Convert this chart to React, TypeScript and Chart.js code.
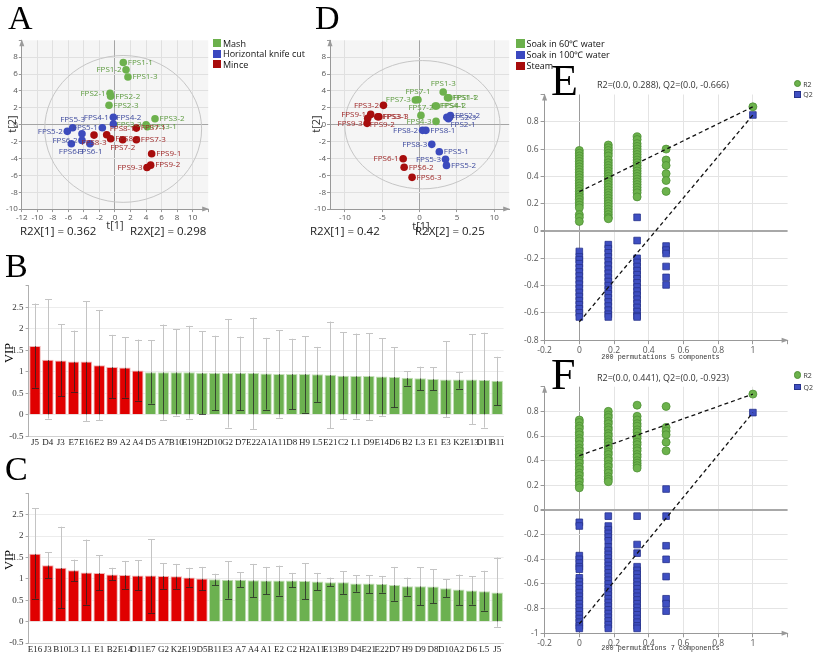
import React, { useEffect, useRef } from 'react';
import { Chart, registerables } from 'chart.js';

Chart.register(...registerables);
Chart.defaults.font.family = 'Open Sans';

// ================= Panel A: PCA scores =================
const A_GROUPS = ['Mash', 'Horizontal knife cut', 'Mince'];
const A_MASH_NAMES = ['FPS1-1', 'FPS1-2', 'FPS1-3', 'FPS2-1', 'FPS2-2', 'FPS2-3', 'FPS3-1', 'FPS3-2', 'FPS3-3'];
const A_MASH_T1 = [1.07, 1.42, 1.67, -0.64, -0.56, -0.77, 4.16, 5.15, 4.0];
const A_MASH_T2 = [7.37, 6.5, 5.66, 3.72, 3.37, 2.3, -0.24, 0.71, 0.0];
const A_KNIFE_NAMES = ['FPS4-1', 'FPS4-2', 'FPS4-3', 'FPS5-1', 'FPS5-2', 'FPS5-3', 'FPS6-1', 'FPS6-2', 'FPS6-3'];
const A_KNIFE_T1 = [-0.21, -0.21, -4.25, -1.63, -6.14, -5.45, -3.22, -4.25, -5.62];
const A_KNIFE_T2 = [0.87, 0.08, -1.07, -0.36, -0.79, -0.36, -2.26, -1.86, -2.26];
const A_MINCE_NAMES = ['FPS7-1', 'FPS7-2', 'FPS7-3', 'FPS8-1', 'FPS8-2', 'FPS8-3', 'FPS9-1', 'FPS9-2', 'FPS9-3'];
const A_MINCE_T1 = [2.75, 0.99, 2.75, -1.07, -0.56, -2.7, 4.72, 4.59, 4.12];
const A_MINCE_T2 = [-0.4, -1.78, -1.78, -1.19, -1.66, -1.23, -3.45, -4.79, -5.07];
const A_X_TICKS = [-12, -10, -8, -6, -4, -2, 0, 2, 4, 6, 8, 10, 12];
const A_R2X = ['R2X[1] = 0.362', 'R2X[2] = 0.298'];

// ================= Panel D: PCA scores =================
const D_GROUPS = ['Soak in 60\u2103 water', 'Soak in 100\u2103 water', 'Steam'];
const D_60_NAMES = ['FPS1-1', 'FPS1-2', 'FPS1-3', 'FPS4-1', 'FPS4-2', 'FPS4-3', 'FPS7-1', 'FPS7-2', 'FPS7-3'];
const D_60_T1 = [3.74, 3.9, 3.16, 2.1, 2.25, 2.2, -0.22, 0.18, -0.57];
const D_60_T2 = [3.2, 3.2, 3.87, 2.21, 2.21, 0.39, 2.96, 1.1, 2.92];
const D_100_NAMES = ['FPS2-1', 'FPS2-2', 'FPS2-3', 'FPS5-1', 'FPS5-2', 'FPS5-3', 'FPS8-1', 'FPS8-2', 'FPS8-3'];
const D_100_T1 = [3.87, 4.13, 3.65, 2.64, 3.6, 3.47, 0.84, 0.4, 1.63];
const D_100_T2 = [0.71, 1.07, 0.87, -3.2, -4.82, -4.1, -0.67, -0.67, -2.33];
const D_STEAM_NAMES = ['FPS3-1', 'FPS3-2', 'FPS3-3', 'FPS6-1', 'FPS6-2', 'FPS6-3', 'FPS9-1', 'FPS9-2', 'FPS9-3'];
const D_STEAM_T1 = [-5.6, -4.84, -5.45, -2.2, -2.07, -1.01, -6.55, -6.95, -7.03];
const D_STEAM_T2 = [0.95, 2.29, 0.95, -4.03, -5.05, -6.24, 1.22, 0.75, 0.16];
const D_X_TICKS = [-10, -5, 0, 5, 10];
const D_R2X = ['R2X[1] = 0.42', 'R2X[2] = 0.25'];

// ================= Panel B: VIP =================
const B_VARS = ['J5', 'D4', 'J3', 'E7', 'E16', 'E2', 'B9', 'A2', 'A4', 'D5', 'A7', 'B10', 'E19', 'H2', 'D10', 'G2', 'D7', 'E22', 'A1', 'A11', 'D8', 'H9', 'L5', 'E21', 'C2', 'L1', 'D9', 'E14', 'D6', 'B2', 'L3', 'E1', 'E3', 'K2', 'E13', 'D11', 'B11'];
const B_VIP = [1.6, 1.28, 1.26, 1.24, 1.24, 1.15, 1.11, 1.1, 1.03, 0.99, 0.99, 0.99, 0.99, 0.98, 0.97, 0.97, 0.97, 0.97, 0.96, 0.95, 0.95, 0.95, 0.94, 0.93, 0.91, 0.9, 0.9, 0.89, 0.88, 0.86, 0.85, 0.83, 0.82, 0.82, 0.82, 0.81, 0.79];
const B_LOW = [0.63, -0.09, 0.43, 0.54, -0.15, -0.13, 0.39, 0.4, 0.33, 0.26, -0.12, -0.02, -0.09, 0.01, 0.1, -0.3, 0.1, -0.33, 0.12, -0.07, 0.13, 0.05, 0.3, -0.31, -0.1, -0.09, -0.12, -0.03, 0.17, 0.68, 0.57, 0.57, -0.06, 0.61, -0.22, -0.3, 0.22];
const B_HIGH = [2.59, 2.69, 2.11, 1.96, 2.64, 2.44, 1.86, 1.8, 1.75, 1.73, 2.1, 1.99, 2.07, 1.94, 1.84, 2.23, 1.82, 2.26, 1.79, 1.97, 1.77, 1.83, 1.58, 2.17, 1.92, 1.89, 1.9, 1.78, 1.57, 1.01, 1.12, 1.1, 1.71, 1.0, 1.87, 1.91, 1.35];

// ================= Panel C: VIP =================
const C_VARS = ['E16', 'J3', 'B10', 'L3', 'L1', 'E1', 'B2', 'E14', 'D11', 'E7', 'G2', 'K2', 'E19', 'D5', 'B11', 'E3', 'A7', 'A4', 'A1', 'E2', 'C2', 'H2', 'A11', 'E13', 'B9', 'D4', 'E21', 'E22', 'D7', 'H9', 'D9', 'D8', 'D10', 'A2', 'D6', 'L5', 'J5'];
const C_VIP = [1.59, 1.32, 1.26, 1.2, 1.15, 1.14, 1.1, 1.09, 1.08, 1.08, 1.07, 1.06, 1.03, 1.01, 0.99, 0.98, 0.98, 0.97, 0.96, 0.96, 0.96, 0.95, 0.94, 0.92, 0.92, 0.89, 0.89, 0.88, 0.86, 0.83, 0.83, 0.82, 0.78, 0.75, 0.73, 0.71, 0.68];
const C_LOW = [0.54, 1.02, 0.31, 0.95, 0.4, 0.74, 0.97, 0.77, 0.74, 0.21, 0.77, 0.77, 0.82, 0.73, 0.85, 0.54, 0.81, 0.57, 0.64, 0.61, 0.8, 0.53, 0.74, 0.83, 0.65, 0.7, 0.67, 0.68, 0.49, 0.61, 0.38, 0.43, 0.58, 0.39, 0.4, 0.26, -0.12];
const C_HIGH = [2.65, 1.62, 2.22, 1.45, 1.92, 1.55, 1.26, 1.42, 1.44, 1.93, 1.36, 1.35, 1.26, 1.28, 1.12, 1.41, 1.16, 1.35, 1.28, 1.31, 1.14, 1.37, 1.14, 1.03, 1.18, 1.08, 1.09, 1.07, 1.28, 1.03, 1.27, 1.22, 0.99, 1.1, 1.06, 1.19, 1.5];
const VIP_THRESHOLD = 1;

// ================= Panels E / F: permutation tests =================
const PERM_X = [0, 0.167, 0.333, 0.5, 1];
const E_R2 = [
  [0.59, 0.57, 0.55, 0.53, 0.51, 0.49, 0.47, 0.45, 0.43, 0.41, 0.39, 0.37, 0.35, 0.33, 0.31, 0.29, 0.27, 0.25, 0.23, 0.21, 0.19, 0.17, 0.12, 0.1, 0.07],
  [0.63, 0.61, 0.59, 0.57, 0.55, 0.52, 0.5, 0.48, 0.46, 0.44, 0.42, 0.4, 0.38, 0.36, 0.34, 0.32, 0.3, 0.28, 0.26, 0.24, 0.22, 0.2, 0.18, 0.16, 0.14, 0.12, 0.1, 0.09],
  [0.69, 0.67, 0.64, 0.62, 0.6, 0.58, 0.56, 0.54, 0.52, 0.5, 0.48, 0.46, 0.44, 0.42, 0.4, 0.38, 0.36, 0.34, 0.32, 0.3, 0.28, 0.25],
  [0.6, 0.52, 0.48, 0.42, 0.37, 0.29],
  [0.91],
];
const E_Q2 = [
  [-0.15, -0.19, -0.21, -0.24, -0.27, -0.3, -0.33, -0.36, -0.39, -0.42, -0.45, -0.48, -0.51, -0.54, -0.57, -0.6, -0.63],
  [-0.1, -0.13, -0.16, -0.19, -0.22, -0.25, -0.28, -0.31, -0.34, -0.37, -0.4, -0.43, -0.46, -0.49, -0.52, -0.55, -0.58, -0.61, -0.63],
  [0.1, -0.07, -0.2, -0.23, -0.26, -0.29, -0.32, -0.35, -0.38, -0.41, -0.44, -0.47, -0.5, -0.53, -0.56, -0.59, -0.62, -0.63],
  [-0.11, -0.14, -0.165, -0.26, -0.34, -0.395],
  [0.85],
];
const E_R2_INTERCEPT = 0.288;
const E_Q2_INTERCEPT = -0.666;
const E_TITLE = 'R2=(0.0, 0.288), Q2=(0.0, -0.666)';
const E_XTITLE = '200 permutations 5 components';

const F_R2 = [
  [0.73, 0.71, 0.68, 0.66, 0.63, 0.61, 0.58, 0.56, 0.53, 0.5, 0.48, 0.45, 0.43, 0.4, 0.38, 0.35, 0.33, 0.3, 0.28, 0.25, 0.23, 0.2, 0.18],
  [0.8, 0.77, 0.75, 0.72, 0.7, 0.67, 0.65, 0.62, 0.6, 0.57, 0.55, 0.52, 0.5, 0.47, 0.45, 0.42, 0.4, 0.37, 0.35, 0.32, 0.3, 0.27, 0.25, 0.23],
  [0.85, 0.76, 0.73, 0.7, 0.68, 0.65, 0.63, 0.6, 0.58, 0.55, 0.53, 0.5, 0.48, 0.45, 0.43, 0.4, 0.38, 0.36, 0.34],
  [0.84, 0.67, 0.64, 0.61, 0.55, 0.48],
  [0.94],
];
const F_Q2 = [
  [-0.1, -0.13, -0.37, -0.4, -0.43, -0.46, -0.48, -0.55, -0.58, -0.61, -0.64, -0.67, -0.7, -0.73, -0.76, -0.79, -0.82, -0.85, -0.88, -0.91, -0.94, -0.96],
  [-0.05, -0.13, -0.16, -0.19, -0.22, -0.25, -0.3, -0.33, -0.36, -0.39, -0.42, -0.45, -0.48, -0.51, -0.54, -0.57, -0.6, -0.63, -0.66, -0.69, -0.72, -0.75, -0.78, -0.81, -0.84, -0.87, -0.9, -0.93, -0.96],
  [-0.05, -0.28, -0.35, -0.46, -0.49, -0.52, -0.55, -0.58, -0.61, -0.64, -0.67, -0.7, -0.73, -0.76, -0.79, -0.82, -0.85, -0.88, -0.91, -0.94, -0.96],
  [0.17, -0.05, -0.29, -0.4, -0.54, -0.72, -0.76, -0.82],
  [0.79],
];
const F_R2_INTERCEPT = 0.441;
const F_Q2_INTERCEPT = -0.923;
const F_TITLE = 'R2=(0.0, 0.441), Q2=(0.0, -0.923)';
const F_XTITLE = '200 permutations 7 components';

// ================= styling (not data) =================
const A_MASH_SIDES = ['r', 'l', 'r', 'l', 'r', 'r', 'r', 'r', 'l'];
const A_KNIFE_SIDES = ['l', 'tr', 'n', 'l', 'l', 't', 'b', 'l', 'b'];
const A_MINCE_SIDES = ['r', 'b', 'r', 'tr', 'r', 'b', 'r', 'r', 'l'];
const D_60_SIDES = ['r', 'r', 't', 'r', 'r', 'l', 't', 't', 'l'];
const D_100_SIDES = ['br', 'r', 'r', 'r', 'r', 'l', 'r', 'l', 'l'];
const D_STEAM_SIDES = ['r', 'l', 'r', 'l', 'r', 'r', 'l', 'br', 'l'];

const GREEN = '#6db14d';
const BLUE = '#3c4bbd';
const DRED = '#a70d0d';
const GREEN_TXT = '#5c9a3e';
const BLUE_TXT = '#3e4a9e';
const RED_TXT = '#9e2626';
const BAR_RED = '#e00000';
const BAR_GREEN = '#6cb150';

type Box = { l: number; t: number; w: number; h: number };
type Area = { l: number; t: number; r: number; b: number };

function frame(box: Box, area: Area) {
  return {
    padding: { left: 0, top: area.t - box.t, right: box.l + box.w - area.r, bottom: 0 },
    xH: box.t + box.h - area.b,
    yW: area.l - box.l,
  };
}

// ---------- plugins ----------
const plotBgPlugin = {
  id: 'plotBg',
  beforeDraw(chart: any, _a: any, o: any) {
    if (!o || !o.color) return;
    const { ctx, chartArea: c } = chart;
    ctx.save();
    ctx.fillStyle = o.color;
    ctx.fillRect(c.left, c.top, c.right - c.left, c.bottom - c.top);
    ctx.restore();
  },
};

const ellipsePlugin = {
  id: 'ellipse',
  beforeDatasetsDraw(chart: any, _a: any, o: any) {
    if (!o || o.rx == null) return;
    const xs = chart.scales.x;
    const ys = chart.scales.y;
    const cx = xs.getPixelForValue(o.cx);
    const cy = ys.getPixelForValue(o.cy);
    const rx = Math.abs(xs.getPixelForValue(o.cx + o.rx) - cx);
    const ry = Math.abs(ys.getPixelForValue(o.cy + o.ry) - cy);
    const ctx = chart.ctx;
    ctx.save();
    ctx.beginPath();
    ctx.ellipse(cx, cy, rx, ry, 0, 0, Math.PI * 2);
    ctx.strokeStyle = o.color || '#c8c8c8';
    ctx.lineWidth = 1;
    ctx.stroke();
    ctx.restore();
  },
};

const pointLabelPlugin = {
  id: 'pointLabels',
  afterDatasetsDraw(chart: any, _a: any, o: any) {
    const ctx = chart.ctx;
    ctx.save();
    ctx.font = `${(o && o.size) || 8}px "Open Sans"`;
    ctx.textBaseline = 'middle';
    chart.data.datasets.forEach((ds: any, di: number) => {
      if (!ds.pointNames) return;
      const meta = chart.getDatasetMeta(di);
      meta.data.forEach((pt: any, i: number) => {
        const side = ds.labelSides[i];
        if (side === 'n') return;
        let x = pt.x;
        let y = pt.y;
        ctx.fillStyle = ds.labelColor;
        if (side === 'r') { ctx.textAlign = 'left'; x += 4.5; }
        else if (side === 'l') { ctx.textAlign = 'right'; x -= 4.5; }
        else if (side === 't') { ctx.textAlign = 'center'; y -= 8; }
        else if (side === 'b') { ctx.textAlign = 'center'; y += 8; }
        else if (side === 'tr') { ctx.textAlign = 'left'; x += 3; y -= 6.5; }
        else if (side === 'br') { ctx.textAlign = 'left'; x += 2; y += 6.5; }
        ctx.fillText(ds.pointNames[i], x, y);
      });
    });
    ctx.restore();
  },
};

const arrowPlugin = {
  id: 'axisArrows',
  afterDraw(chart: any, _a: any, o: any) {
    if (!o || !o.color) return;
    const { ctx, chartArea: c } = chart;
    ctx.save();
    ctx.fillStyle = o.color;
    ctx.beginPath();
    ctx.moveTo(c.right + 1, c.bottom);
    ctx.lineTo(c.right - 6, c.bottom - 2.5);
    ctx.lineTo(c.right - 6, c.bottom + 2.5);
    ctx.closePath();
    ctx.fill();
    ctx.beginPath();
    ctx.moveTo(c.left, c.top - 1);
    ctx.lineTo(c.left - 2.5, c.top + 6);
    ctx.lineTo(c.left + 2.5, c.top + 6);
    ctx.closePath();
    ctx.fill();
    ctx.restore();
  },
};

const errorBarPlugin = {
  id: 'errorBars',
  afterDatasetsDraw(chart: any) {
    const ds: any = chart.data.datasets[0];
    if (!ds.errLow) return;
    const meta = chart.getDatasetMeta(0);
    const ys = chart.scales.y;
    const ctx = chart.ctx;
    const light = '#c4c4c4';
    const dark = 'rgba(35,35,35,0.75)';
    const cap = 3.5;
    const seg = (x: number, a: number, b: number, col: string) => {
      if (b <= a) return;
      ctx.strokeStyle = col;
      ctx.beginPath();
      ctx.moveTo(x, ys.getPixelForValue(a));
      ctx.lineTo(x, ys.getPixelForValue(b));
      ctx.stroke();
    };
    const capAt = (x: number, v: number, col: string) => {
      const p = Math.round(ys.getPixelForValue(v)) + 0.5;
      ctx.strokeStyle = col;
      ctx.beginPath();
      ctx.moveTo(x - cap, p);
      ctx.lineTo(x + cap, p);
      ctx.stroke();
    };
    ctx.save();
    ctx.lineWidth = 1;
    meta.data.forEach((bar: any, i: number) => {
      const x = Math.round(bar.x) + 0.5;
      const v = ds.data[i];
      const lo = ds.errLow[i];
      const hi = ds.errHigh[i];
      seg(x, Math.max(lo, 0), Math.min(hi, v), dark);
      seg(x, Math.max(lo, v), hi, light);
      seg(x, lo, Math.min(hi, 0), light);
      capAt(x, hi, hi > v ? light : dark);
      capAt(x, lo, lo < 0 ? light : dark);
    });
    ctx.restore();
  },
};

// ---------- config builders ----------
type Group = { names: string[]; t1: number[]; t2: number[]; sides: string[]; color: string; labelColor: string };

function makePCA(groups: Group[], box: Box, area: Area, xTicks: number[], ell: any) {
  const f = frame(box, area);
  return {
    type: 'scatter',
    data: {
      datasets: groups.map((g) => ({
        data: g.t1.map((v, i) => ({ x: v, y: g.t2[i] })),
        backgroundColor: g.color,
        borderWidth: 0,
        pointRadius: 3.8,
        pointHoverRadius: 3.8,
        pointNames: g.names,
        labelSides: g.sides,
        labelColor: g.labelColor,
      })),
    },
    options: {
      responsive: false,
      animation: false,
      events: [],
      layout: { padding: f.padding },
      plugins: {
        legend: { display: false },
        tooltip: { enabled: false },
        plotBg: { color: '#f5f5f5' },
        ellipse: ell,
        axisArrows: { color: '#9a9a9a' },
        pointLabels: { size: 8 },
      },
      scales: {
        x: {
          type: 'linear',
          min: -12,
          max: 12,
          afterFit: (s: any) => { s.height = f.xH; },
          afterBuildTicks: (s: any) => { s.ticks = xTicks.map((v) => ({ value: v })); },
          ticks: {
            font: { size: 8 }, color: '#555', padding: 1, maxRotation: 0, autoSkip: false,
            callback: (v: any) => (v >= 12 ? '' : String(v)),
          },
          grid: {
            color: (c: any) => (c.tick && c.tick.value === 0 ? '#a5a5a5' : c.tick && c.tick.value >= 12 ? 'rgba(0,0,0,0)' : '#e0e0e0'),
            tickLength: 3, tickColor: '#999',
          },
          border: { color: '#999' },
        },
        y: {
          type: 'linear',
          min: -10,
          max: 10,
          afterFit: (s: any) => { s.width = f.yW; },
          ticks: {
            stepSize: 2, font: { size: 8 }, color: '#555', padding: 1,
            callback: (v: any) => (v >= 10 ? '' : String(v)),
          },
          grid: {
            color: (c: any) => (c.tick && c.tick.value === 0 ? '#a5a5a5' : c.tick && c.tick.value >= 10 ? 'rgba(0,0,0,0)' : '#e0e0e0'),
            tickLength: 3, tickColor: '#999',
          },
          border: { color: '#999' },
        },
      },
    },
    plugins: [plotBgPlugin, ellipsePlugin, pointLabelPlugin, arrowPlugin],
  };
}

function makeVIP(vars: string[], vip: number[], low: number[], high: number[], box: Box, area: Area) {
  const f = frame(box, area);
  return {
    type: 'bar',
    data: {
      labels: vars,
      datasets: [{
        data: vip,
        backgroundColor: vip.map((v) => (v > VIP_THRESHOLD ? BAR_RED : BAR_GREEN)),
        borderColor: vip.map((v) => (v > VIP_THRESHOLD ? '#efb4b4' : '#c4dfb8')),
        borderWidth: 1,
        barPercentage: 0.9,
        categoryPercentage: 1,
        errLow: low,
        errHigh: high,
      }],
    },
    options: {
      responsive: false,
      animation: false,
      events: [],
      layout: { padding: f.padding },
      plugins: { legend: { display: false }, tooltip: { enabled: false } },
      scales: {
        x: {
          type: 'category',
          afterFit: (s: any) => { s.height = f.xH; },
          ticks: {
            font: { family: 'Liberation Serif', size: 9 }, color: '#222', padding: 1,
            maxRotation: 0, minRotation: 0, autoSkip: false,
          },
          grid: { display: false, drawTicks: false, tickLength: 0 },
          border: { display: true, color: '#d0d0d0' },
        },
        y: {
          type: 'linear',
          min: -0.5,
          max: 3,
          afterFit: (s: any) => { s.width = f.yW; },
          ticks: {
            stepSize: 0.5, font: { family: 'Liberation Serif', size: 9 }, color: '#333', padding: 2,
            callback: (v: any) => (v >= 2.99 ? '' : String(v)),
          },
          grid: {
            color: (c: any) => (c.tick && (c.tick.value >= 2.99 || c.tick.value <= -0.49) ? 'rgba(0,0,0,0)' : '#ececec'),
            tickLength: 3, tickColor: '#aaa',
          },
          border: { color: '#b0b0b0' },
        },
      },
    },
    plugins: [errorBarPlugin],
  };
}

function makePerm(r2: number[][], q2: number[][], r2Int: number, q2Int: number, yMin: number, box: Box, area: Area) {
  const f = frame(box, area);
  const pts = (groups: number[][]) => groups.flatMap((col, gi) => col.map((v) => ({ x: PERM_X[gi], y: v })));
  const last = PERM_X.length - 1;
  const r2Orig = r2[last][0];
  const q2Orig = q2[last][0];
  const fmt = (v: number) => String(Math.round(v * 10) / 10);
  return {
    type: 'scatter',
    data: {
      datasets: [
        {
          data: [{ x: PERM_X[0], y: r2Int }, { x: PERM_X[last], y: r2Orig }],
          showLine: true, borderColor: '#111', borderWidth: 1.3, borderDash: [4, 3], pointRadius: 0, order: 0,
        },
        {
          data: [{ x: PERM_X[0], y: q2Int }, { x: PERM_X[last], y: q2Orig }],
          showLine: true, borderColor: '#111', borderWidth: 1.3, borderDash: [4, 3], pointRadius: 0, order: 0,
        },
        {
          data: pts(r2), pointStyle: 'circle', pointRadius: 4, pointHoverRadius: 4,
          backgroundColor: '#6cb24c', borderColor: '#4d8f33', borderWidth: 0.8, order: 1,
        },
        {
          data: pts(q2), pointStyle: 'rect', pointRadius: 4.7, pointHoverRadius: 4.7,
          backgroundColor: '#3f4fc2', borderColor: '#27328c', borderWidth: 0.8, order: 2,
        },
      ],
    },
    options: {
      responsive: false,
      animation: false,
      events: [],
      layout: { padding: f.padding },
      plugins: { legend: { display: false }, tooltip: { enabled: false }, axisArrows: { color: '#999' } },
      scales: {
        x: {
          type: 'linear', min: -0.2, max: 1.2,
          afterFit: (s: any) => { s.height = f.xH; },
          ticks: {
            stepSize: 0.2, font: { size: 8.5 }, color: '#555', padding: 1, maxRotation: 0,
            callback: (v: any) => (v > 1.05 ? '' : fmt(v)),
          },
          grid: {
            color: (c: any) => {
              const v = c.tick ? c.tick.value : 1;
              if (Math.abs(v) < 1e-6) return '#9c9c9c';
              if (v > 1.15) return 'rgba(0,0,0,0)';
              return '#e4e4e4';
            },
            tickLength: 4, tickColor: '#999',
          },
          border: { color: '#999' },
        },
        y: {
          type: 'linear', min: yMin, max: 1.0,
          afterFit: (s: any) => { s.width = f.yW; },
          ticks: {
            stepSize: 0.2, font: { size: 8.5 }, color: '#555', padding: 2,
            callback: (v: any) => (v > 0.95 ? '' : fmt(v)),
          },
          grid: {
            color: (c: any) => {
              const v = c.tick ? c.tick.value : 1;
              if (Math.abs(v) < 1e-6) return '#a8a8a8';
              if (v > 0.95) return 'rgba(0,0,0,0)';
              return '#e4e4e4';
            },
            lineWidth: (c: any) => (c.tick && Math.abs(c.tick.value) < 1e-6 ? 2 : 1),
            tickLength: 4, tickColor: '#999',
          },
          border: { color: '#999' },
        },
      },
    },
    plugins: [arrowPlugin],
  };
}

// ---------- geometry ----------
const A_BOX = { l: 0, t: 30, w: 300, h: 212 };
const A_AREA = { l: 21.8, t: 40.3, r: 208.2, b: 209.1 };
const D_BOX = { l: 300, t: 30, w: 213, h: 212 };
const D_AREA = { l: 330, t: 40.3, r: 512, b: 209.1 };
const B_BOX = { l: 0, t: 275, w: 515, h: 175 };
const B_AREA = { l: 28.6, t: 285.9, r: 503.6, b: 436.2 };
const C_BOX = { l: 0, t: 482, w: 515, h: 173 };
const C_AREA = { l: 28.6, t: 493.3, r: 503.6, b: 643.1 };
const E_BOX = { l: 500, t: 75, w: 313, h: 290 };
const E_AREA = { l: 544.6, t: 94.5, r: 787.6, b: 340.2 };
const F_BOX = { l: 500, t: 370, w: 313, h: 285 };
const F_AREA = { l: 544.6, t: 386.7, r: 787.6, b: 633.3 };

function ChartCanvas({ box, make }: { box: Box; make: () => any }) {
  const ref = useRef<HTMLCanvasElement>(null);
  useEffect(() => {
    const chart = new Chart(ref.current as HTMLCanvasElement, make());
    return () => chart.destroy();
  }, []);
  return (
    <canvas
      ref={ref}
      width={box.w}
      height={box.h}
      style={{ position: 'absolute', left: box.l, top: box.t, width: box.w, height: box.h }}
    />
  );
}

function Txt({ x, y, size, family, color, center, children, rotate }: any) {
  return (
    <div
      style={{
        position: 'absolute', left: x, top: y, whiteSpace: 'nowrap', lineHeight: 1,
        fontSize: size, fontFamily: family || 'Open Sans', color: color || '#222',
        transform: rotate ? 'translate(-50%,-50%) rotate(-90deg)' : `translate(${center ? '-50%' : '0'},-50%)`,
      }}
    >
      {children}
    </div>
  );
}

function Letter({ x, y, size, children }: any) {
  return (
    <div style={{ position: 'absolute', left: x, top: y, fontFamily: 'Liberation Serif', fontSize: size, lineHeight: 1, color: '#000' }}>
      {children}
    </div>
  );
}

function Legend({ x, y, step, sq, labels, colors, size }: any) {
  return (
    <>
      {labels.map((lab: string, i: number) => (
        <div key={lab} style={{ position: 'absolute', left: x, top: y + i * step, height: sq, display: 'flex', alignItems: 'center' }}>
          <div style={{ width: sq, height: sq, background: colors[i], flex: 'none' }} />
          <span style={{ marginLeft: 2, fontSize: size, fontFamily: 'Open Sans', whiteSpace: 'nowrap', color: '#111' }}>{lab}</span>
        </div>
      ))}
    </>
  );
}

function PermLegend({ x, y1, y2 }: any) {
  return (
    <>
      <div style={{ position: 'absolute', left: x - 3.8, top: y1 - 3.8, width: 7.6, height: 7.6, borderRadius: '50%', background: '#6cb24c', boxSizing: 'border-box', border: '0.8px solid #4d8f33' }} />
      <Txt x={x + 6} y={y1} size={7} color="#333">R2</Txt>
      <div style={{ position: 'absolute', left: x - 3.2, top: y2 - 3.2, width: 6.5, height: 6.5, background: '#3f4fc2', boxSizing: 'border-box', border: '0.8px solid #27328c' }} />
      <Txt x={x + 6} y={y2} size={7} color="#333">Q2</Txt>
    </>
  );
}

export default function App() {
  const aGroups: Group[] = [
    { names: A_MASH_NAMES, t1: A_MASH_T1, t2: A_MASH_T2, sides: A_MASH_SIDES, color: GREEN, labelColor: GREEN_TXT },
    { names: A_KNIFE_NAMES, t1: A_KNIFE_T1, t2: A_KNIFE_T2, sides: A_KNIFE_SIDES, color: BLUE, labelColor: BLUE_TXT },
    { names: A_MINCE_NAMES, t1: A_MINCE_T1, t2: A_MINCE_T2, sides: A_MINCE_SIDES, color: DRED, labelColor: RED_TXT },
  ];
  const dGroups: Group[] = [
    { names: D_60_NAMES, t1: D_60_T1, t2: D_60_T2, sides: D_60_SIDES, color: GREEN, labelColor: GREEN_TXT },
    { names: D_100_NAMES, t1: D_100_T1, t2: D_100_T2, sides: D_100_SIDES, color: BLUE, labelColor: BLUE_TXT },
    { names: D_STEAM_NAMES, t1: D_STEAM_T1, t2: D_STEAM_T2, sides: D_STEAM_SIDES, color: DRED, labelColor: RED_TXT },
  ];
  const legendColors = ['#6cb04c', '#3b48c0', '#a80c0c'];

  return (
    <div style={{ position: 'absolute', left: 0, top: 0, width: 813, height: 655, background: '#fff', overflow: 'hidden' }}>
      <ChartCanvas box={A_BOX} make={() => makePCA(aGroups, A_BOX, A_AREA, A_X_TICKS, { cx: 1.05, cy: -0.5, rx: 10.1, ry: 8.7, color: '#c6c6c6' })} />
      <ChartCanvas box={D_BOX} make={() => makePCA(dGroups, D_BOX, D_AREA, D_X_TICKS, { cx: 0.37, cy: 0, rx: 10.4, ry: 7.6, color: '#c6c6c6' })} />
      <ChartCanvas box={B_BOX} make={() => makeVIP(B_VARS, B_VIP, B_LOW, B_HIGH, B_BOX, B_AREA)} />
      <ChartCanvas box={C_BOX} make={() => makeVIP(C_VARS, C_VIP, C_LOW, C_HIGH, C_BOX, C_AREA)} />
      <ChartCanvas box={E_BOX} make={() => makePerm(E_R2, E_Q2, E_R2_INTERCEPT, E_Q2_INTERCEPT, -0.8, E_BOX, E_AREA)} />
      <ChartCanvas box={F_BOX} make={() => makePerm(F_R2, F_Q2, F_R2_INTERCEPT, F_Q2_INTERCEPT, -1, F_BOX, F_AREA)} />

      {/* panel letters */}
      <Letter x={8} y={1} size={34}>A</Letter>
      <Letter x={315} y={1} size={34}>D</Letter>
      <Letter x={5} y={249} size={34}>B</Letter>
      <Letter x={5} y={452} size={34}>C</Letter>
      <Letter x={551} y={59} size={44}>E</Letter>
      <Letter x={551} y={353} size={44}>F</Letter>

      {/* PCA legends */}
      <Legend x={213} y={39} step={10.5} sq={8} labels={A_GROUPS} colors={legendColors} size={9} />
      <Legend x={516} y={39.3} step={11.2} sq={8.5} labels={D_GROUPS} colors={legendColors} size={9} />

      {/* PCA axis titles */}
      <Txt x={115} y={224} size={11} color="#333" center>t[1]</Txt>
      <Txt x={11} y={124} size={11} color="#333" rotate>t[2]</Txt>
      <Txt x={421} y={225} size={11} color="#333" center>t[1]</Txt>
      <Txt x={315} y={124} size={11} color="#333" rotate>t[2]</Txt>
      <Txt x={20} y={231} size={11.5} color="#222">{A_R2X[0]}</Txt>
      <Txt x={130} y={231} size={11.5} color="#222">{A_R2X[1]}</Txt>
      <Txt x={310} y={231} size={11.5} color="#222">{D_R2X[0]}</Txt>
      <Txt x={415} y={231} size={11.5} color="#222">{D_R2X[1]}</Txt>

      {/* VIP axis titles */}
      <Txt x={9} y={353} size={12.5} family="Liberation Serif" color="#000" rotate>VIP</Txt>
      <Txt x={9} y={560} size={12.5} family="Liberation Serif" color="#000" rotate>VIP</Txt>

      {/* permutation titles & legends */}
      <Txt x={597} y={84.3} size={9} color="#333">{E_TITLE}</Txt>
      <Txt x={597} y={376.7} size={9} color="#333">{F_TITLE}</Txt>
      <Txt x={660.5} y={356.7} size={6.8} family="Liberation Mono" color="#333" center>{E_XTITLE}</Txt>
      <Txt x={660.5} y={648.3} size={6.8} family="Liberation Mono" color="#333" center>{F_XTITLE}</Txt>
      <PermLegend x={797.3} y1={83.5} y2={94.4} />
      <PermLegend x={797.5} y1={375} y2={386.7} />
    </div>
  );
}
